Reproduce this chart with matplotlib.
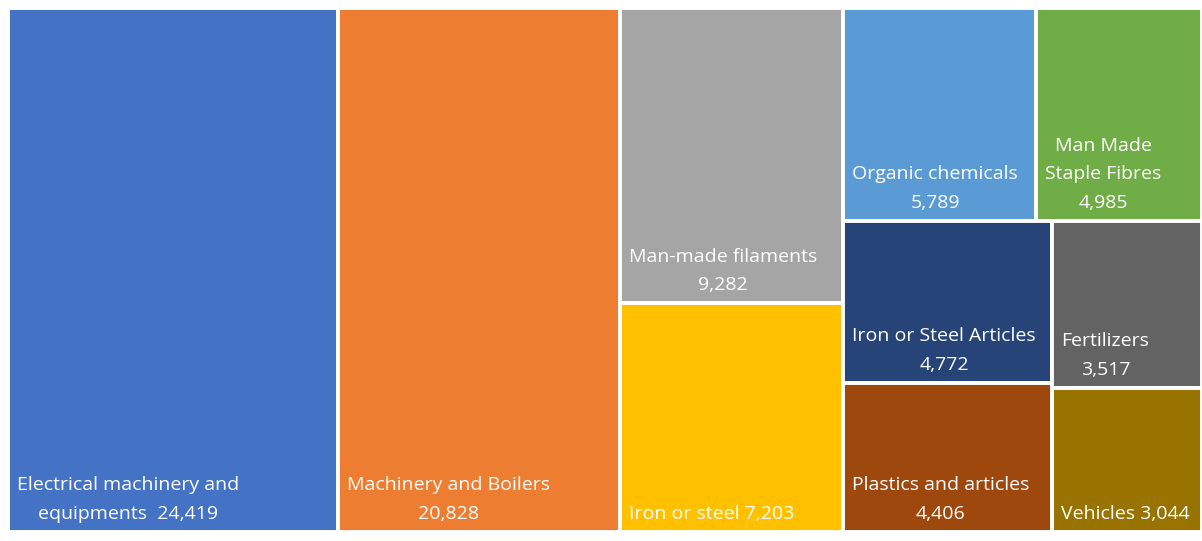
# =========================================
# STEP 1: Import libraries
# =========================================
import matplotlib
matplotlib.use("Agg")
import matplotlib.pyplot as plt
from matplotlib.patches import Rectangle

# =========================================
# STEP 2: Data
# =========================================
names = [
    "Electrical machinery and\nequipments",
    "Machinery and Boilers",
    "Man-made filaments",
    "Iron or steel",
    "Organic chemicals",
    "Man Made\nStaple Fibres",
    "Iron or Steel Articles",
    "Plastics and articles",
    "Fertilizers",
    "Vehicles",
]
values = [24419, 20828, 9282, 7203, 5789, 4985, 4772, 4406, 3517, 3044]
# how the value is joined to the name
joins = ["  ", "\n", "\n", " ", "\n", "\n", "\n", "\n", "\n", " "]

colors = ["#4472C4", "#ED7D31", "#A5A5A5", "#FFC000", "#5B9BD5",
          "#70AD47", "#264478", "#9E480E", "#636363", "#997300"]

# =========================================
# STEP 3: Squarified treemap layout
# =========================================
W, H = 1194.0, 524.0


def worst(row, side):
    s = sum(row)
    return max(max(side * side * r / (s * s), s * s / (side * side * r)) for r in row)


def squarify(areas, x, y, w, h):
    rects = []
    areas = list(areas)
    while areas:
        side = min(w, h)
        row = [areas.pop(0)]
        while areas and worst(row + [areas[0]], side) <= worst(row, side):
            row.append(areas.pop(0))
        s = sum(row)
        if w >= h:
            cw = s / h
            cy = y
            for a in row:
                rh = a / cw
                rects.append((x, cy, cw, rh))
                cy += rh
            x += cw
            w -= cw
        else:
            rh = s / w
            cx = x
            for a in row:
                cw = a / rh
                rects.append((cx, y, cw, rh))
                cx += cw
            y += rh
            h -= rh
    return rects


total = sum(values)
areas = [v * W * H / total for v in values]
rects = squarify(areas, 0, 0, W, H)

# =========================================
# STEP 4: Plot
# =========================================
plt.rcParams['font.family'] = ['Open Sans', 'DejaVu Sans']

fig = plt.figure(figsize=(12.02, 5.41), dpi=100)
ax = fig.add_axes([8 / 1202, 9 / 541, W / 1202, H / 541])
ax.set_xlim(0, W)
ax.set_ylim(H, 0)
ax.axis("off")

for (x, y, w, h), name, val, j, c in zip(rects, names, values, joins, colors):
    ax.add_patch(Rectangle((x, y), w, h, facecolor=c, edgecolor="white", linewidth=2.8))
    ax.text(x + 9, y + h - 9, f"{name}{j}{val:,}", color="white", fontsize=14,
            ha="left", va="bottom", multialignment="center", linespacing=1.75)

fig.savefig("out.png", dpi=100)
